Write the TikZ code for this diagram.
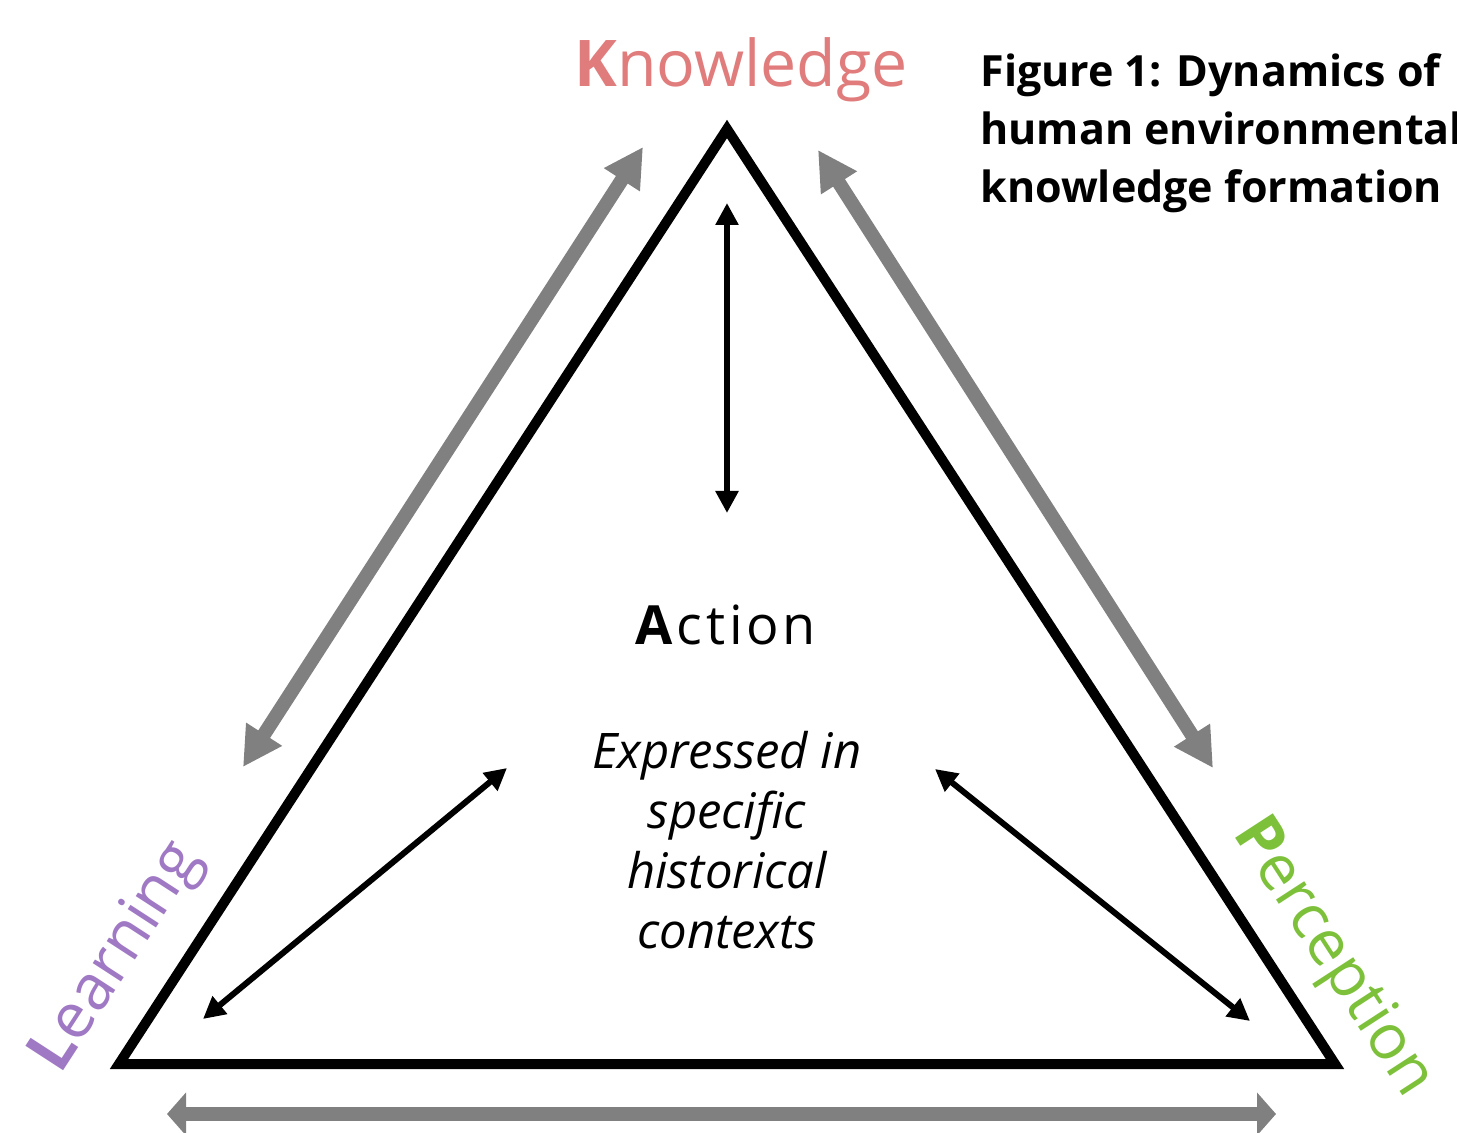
\documentclass[tikz,border=0pt]{standalone}
\usepackage{fontspec}
\setmainfont{Open Sans}
\usetikzlibrary{arrows.meta}
\definecolor{knowc}{RGB}{224,124,124}
\definecolor{learnc}{RGB}{160,121,196}
\definecolor{percc}{RGB}{125,192,58}
\definecolor{grayarr}{RGB}{128,128,128}
\begin{document}
\begin{tikzpicture}[x=0.5pt,y=-0.5pt,
  tri/.style={line width=5pt, line join=miter},
  grayarrow/.style={draw=grayarr, line width=7pt,
    {Triangle[length=19.5pt,width=20pt]}-{Triangle[length=19.5pt,width=20pt]}},
  grayflat/.style={draw=grayarr, line width=7pt,
    {Triangle[length=9.5pt,width=21pt]}-{Triangle[length=9.5pt,width=21pt]}},
  blackarrow/.style={draw=black, line width=3pt,
    {Triangle[length=11pt,width=11pt]}-{Triangle[length=11pt,width=11pt]}},
  vertexlabel/.style={font=\fontsize{31.5}{37}\selectfont, inner sep=0pt}
]
\useasboundingbox (0,0) rectangle (1457,1133);
\clip (0,0) rectangle (1457,1133);

% triangle vertices
\coordinate (apex) at (727,129);
\coordinate (bl) at (119,1064);
\coordinate (br) at (1335,1064);
\draw[tri] (apex) -- (bl) -- (br) -- cycle;

% gray arrow ends
\coordinate (gl1) at (643,147);
\coordinate (gl2) at (243,767);
\coordinate (gr1) at (818,150);
\coordinate (gr2) at (1213,768);
\coordinate (gb1) at (167,1114);
\coordinate (gb2) at (1276,1114);
\draw[grayarrow] (gl1) -- (gl2);
\draw[grayarrow] (gr1) -- (gr2);
\draw[grayflat] (gb1) -- (gb2);

% black arrow ends
\coordinate (bv1) at (727,203);
\coordinate (bv2) at (727,513);
\coordinate (bl1) at (507,768);
\coordinate (bl2) at (203,1019);
\coordinate (br1) at (935,769);
\coordinate (br2) at (1250,1021);
\draw[blackarrow] (bv1) -- (bv2);
\draw[blackarrow] (bl1) -- (bl2);
\draw[blackarrow] (br1) -- (br2);

% labels
\node[vertexlabel, font=\fontsize{32.2}{37}\selectfont, text=knowc, anchor=base] (know) at (741,87) {\textbf{K}nowledge};
\node[vertexlabel, text=learnc, rotate=57] (learn) at (118,958) {\textbf{L}earning};
\node[vertexlabel, text=percc, rotate=-57] (perc) at (1332,958) {\textbf{P}erception};

\node[anchor=base west, align=left, inner sep=0pt,
  font=\bfseries\fontsize{21.5}{29}\selectfont] (title) at (980,203)
  {Figure 1: Dynamics of\\human environmental\\knowledge formation};

\node[anchor=base, inner sep=0pt, font=\addfontfeatures{LetterSpace=7}\fontsize{27}{30}\selectfont] (action) at (726,645) {\textbf{A}ction};
\node[anchor=base, align=center, inner sep=0pt, font=\itshape\fontsize{24.5}{30}\selectfont] (expr) at (727,948)
  {Expressed in\\specific\\historical\\contexts};
\end{tikzpicture}
\end{document}
